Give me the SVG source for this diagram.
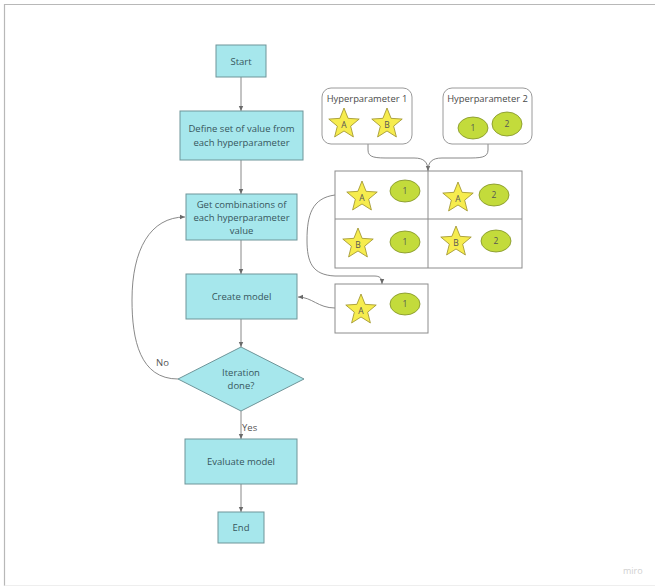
<svg xmlns="http://www.w3.org/2000/svg" width="655" height="587" viewBox="0 0 655 587">
  <style>
    .box { fill: #a6e7ec; stroke: #6f9599; stroke-width: 1; }
    .lbl { font-family: "Open Sans", "Noto Sans", sans-serif; font-size: 9.5px; fill: #36565c; text-anchor: middle; }
    .hp { fill: #ffffff; stroke: #9a9a9a; stroke-width: 1; }
    .hpl { font-family: "Open Sans", "Noto Sans", sans-serif; font-size: 9.4px; fill: #4a4a4a; text-anchor: middle; }
    .cell { fill: #ffffff; stroke: #8c8c8c; stroke-width: 1; }
    .star { fill: #f6ec4e; stroke: #9a8f2a; stroke-width: 0.8; }
    .oval { fill: #c3db3b; stroke: #7f8f25; stroke-width: 0.8; }
    .sym { font-family: "Open Sans", "Noto Sans", sans-serif; font-size: 8.5px; fill: #555; text-anchor: middle; }
    .edge { fill: none; stroke: #7c7c7c; stroke-width: 0.9; }
    .tag { font-family: "Open Sans", "Noto Sans", sans-serif; font-size: 9.5px; fill: #555; }
  </style>
  <defs>
    <path id="star" d="M0,-16 L4.11,-5.66 L15.22,-4.94 L6.66,2.16 L9.4,12.94 L0,7 L-9.4,12.94 L-6.66,2.16 L-15.22,-4.94 L-4.11,-5.66 Z"/>
    <marker id="arr" markerWidth="6" markerHeight="6" refX="5" refY="3" orient="auto" markerUnits="userSpaceOnUse">
      <path d="M0,0.8 L5,3 L0,5.2 Z" fill="#6a6a6a"/>
    </marker>
  </defs>

  <rect width="655" height="587" fill="#ffffff"/>
  <!-- canvas frame -->
  <path d="M4.5,586 L4.5,4.5 L655,4.5" fill="none" stroke="#b8b8b8" stroke-width="1.2"/>
  <line x1="4.5" y1="585.5" x2="655" y2="585.5" stroke="#eeeeee" stroke-width="1"/>

  <g id="connectors">
    <line class="edge" x1="241" y1="77" x2="241" y2="111" marker-end="url(#arr)"/>
    <line class="edge" x1="241" y1="160" x2="241" y2="194" marker-end="url(#arr)"/>
    <line class="edge" x1="241" y1="240" x2="241" y2="274" marker-end="url(#arr)"/>
    <line class="edge" x1="241" y1="319" x2="241" y2="347" marker-end="url(#arr)"/>
    <line class="edge" x1="241" y1="411" x2="241" y2="439" marker-end="url(#arr)"/>
    <line class="edge" x1="241" y1="484" x2="241" y2="512" marker-end="url(#arr)"/>
    <!-- No loop back -->
    <path class="edge" d="M178,379 C140,379 132,340 132,300 C132,250 150,217 185,217" marker-end="url(#arr)"/>
    <!-- hyperparameters into grid -->
    <path class="edge" d="M368,144 L368,150 C368,158 376,158 390,158 L414,158 C424,158 428,162 428,171" marker-end="url(#arr)"/>
    <path class="edge" d="M488,144 L488,150 C488,158 480,158 466,158 L442,158 C432,158 428,162 428,171"/>
    <!-- grid to selected combination -->
    <path class="edge" d="M335,195 C312,198 307,215 307,240 C307,262 312,275 335,276 L374,276 C380,276 382,278 382,284" marker-end="url(#arr)"/>
    <!-- selected combination to create model -->
    <path class="edge" d="M335,308 C318,308 312,297 298,297" marker-end="url(#arr)"/>
  </g>

  <text class="tag" x="156" y="366">No</text>
  <text class="tag" x="242" y="431">Yes</text>

  <g id="start">
    <rect class="box" x="216" y="45" width="50" height="32"/>
    <text class="lbl" x="241" y="64.5">Start</text>
  </g>
  <g id="define">
    <rect class="box" x="180" y="111" width="123" height="49"/>
    <text class="lbl" x="241.5" y="132">Define set of value from</text>
    <text class="lbl" x="241.5" y="146">each hyperparameter</text>
  </g>
  <g id="combinations">
    <rect class="box" x="186" y="194" width="111" height="46"/>
    <text class="lbl" x="241.5" y="208">Get combinations of</text>
    <text class="lbl" x="241.5" y="221">each hyperparameter</text>
    <text class="lbl" x="241.5" y="234">value</text>
  </g>
  <g id="create">
    <rect class="box" x="186" y="274" width="111" height="45"/>
    <text class="lbl" x="241.5" y="300">Create model</text>
  </g>
  <g id="iteration">
    <polygon class="box" points="241,347 304,379 241,411 178,379"/>
    <text class="lbl" x="241" y="376">Iteration</text>
    <text class="lbl" x="241" y="389">done?</text>
  </g>
  <g id="evaluate">
    <rect class="box" x="185" y="439" width="112" height="45"/>
    <text class="lbl" x="241" y="465">Evaluate model</text>
  </g>
  <g id="end">
    <rect class="box" x="218" y="512" width="46" height="31"/>
    <text class="lbl" x="241" y="531">End</text>
  </g>

  <g id="hyperparameter1">
    <rect class="hp" x="322" y="88" width="90" height="56" rx="9"/>
    <text class="hpl" x="367" y="102">Hyperparameter 1</text>
    <use href="#star" class="star" x="344" y="124"/>
    <text class="sym" x="344" y="128">A</text>
    <use href="#star" class="star" x="387" y="124"/>
    <text class="sym" x="387" y="128">B</text>
  </g>
  <g id="hyperparameter2">
    <rect class="hp" x="443" y="88" width="89" height="56" rx="9"/>
    <text class="hpl" x="487.5" y="102">Hyperparameter 2</text>
    <ellipse class="oval" cx="473" cy="128" rx="15" ry="11"/>
    <text class="sym" x="473" y="131">1</text>
    <ellipse class="oval" cx="507" cy="124" rx="15" ry="12"/>
    <text class="sym" x="507" y="127">2</text>
  </g>

  <g id="combination-grid">
    <rect class="cell" x="335" y="171" width="187" height="97"/>
    <line class="cell" x1="428" y1="171" x2="428" y2="268"/>
    <line class="cell" x1="335" y1="219" x2="522" y2="219"/>
    <use href="#star" class="star" x="362" y="197"/>
    <text class="sym" x="362" y="201">A</text>
    <ellipse class="oval" cx="405" cy="191" rx="15" ry="11"/>
    <text class="sym" x="405" y="194">1</text>
    <use href="#star" class="star" x="458" y="198"/>
    <text class="sym" x="458" y="202">A</text>
    <ellipse class="oval" cx="494" cy="195" rx="15" ry="11"/>
    <text class="sym" x="494" y="198">2</text>
    <use href="#star" class="star" x="358" y="244"/>
    <text class="sym" x="358" y="248">B</text>
    <ellipse class="oval" cx="405" cy="242" rx="15" ry="11"/>
    <text class="sym" x="405" y="245">1</text>
    <use href="#star" class="star" x="456" y="242"/>
    <text class="sym" x="456" y="246">B</text>
    <ellipse class="oval" cx="496" cy="241" rx="15" ry="11"/>
    <text class="sym" x="496" y="244">2</text>
  </g>

  <g id="selected-combination">
    <rect class="cell" x="335" y="284" width="93" height="49"/>
    <use href="#star" class="star" x="361" y="310"/>
    <text class="sym" x="361" y="314">A</text>
    <ellipse class="oval" cx="405" cy="304" rx="15" ry="11"/>
    <text class="sym" x="405" y="307">1</text>
  </g>

  <text x="623" y="574" font-family="Open Sans, sans-serif" font-size="9px" fill="#cfcfcf">miro</text>
</svg>
